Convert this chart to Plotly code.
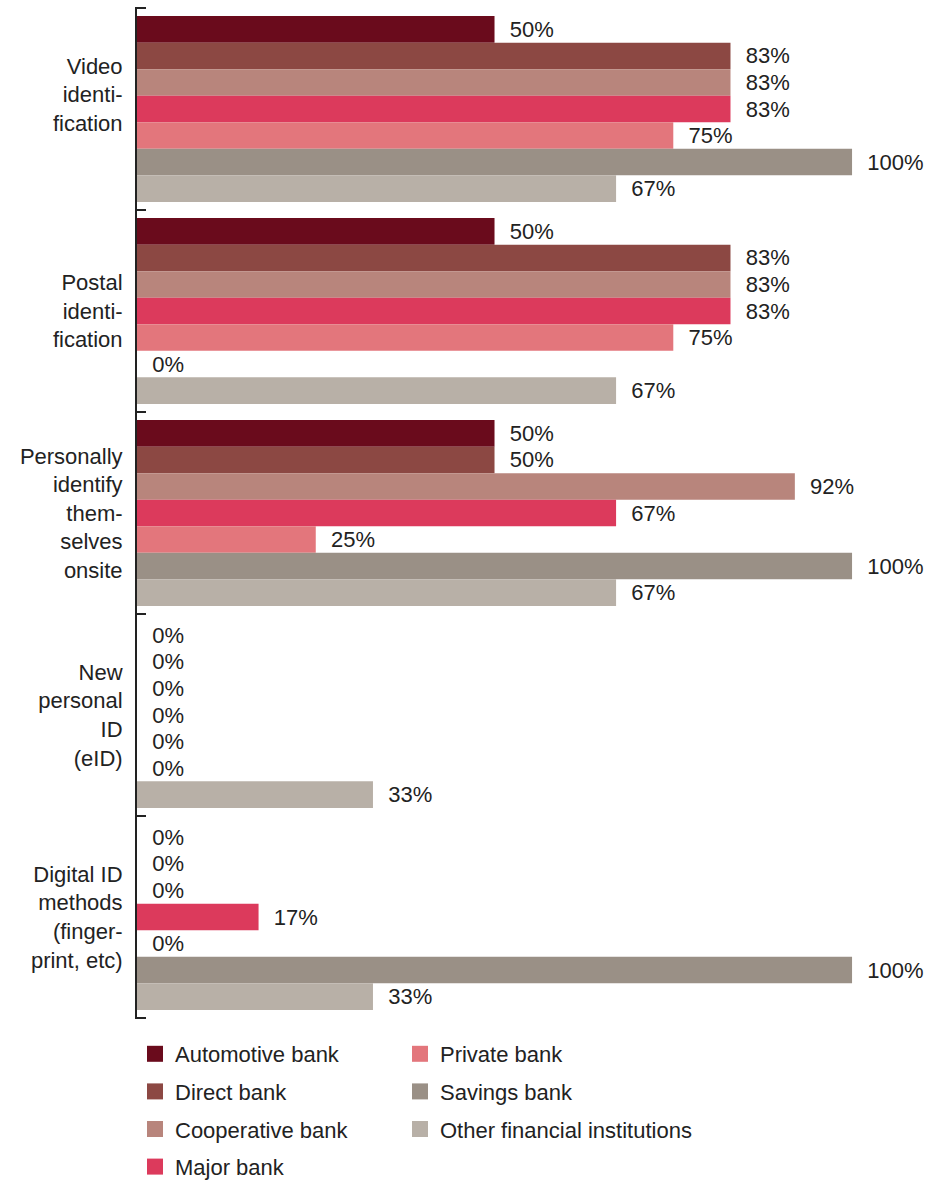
import plotly.graph_objects as go

categories = [
    "Video<br>identi-<br>fication<br>\u00a0",
    "Postal<br>identi-<br>fication",
    "Personally<br>identify<br>them-<br>selves<br>onsite",
    "New<br>personal<br>ID<br>(eID)",
    "Digital ID<br>methods<br>(finger-<br>print, etc)",
]
series_names = [
    "Automotive bank", "Direct bank", "Cooperative bank", "Major bank",
    "Private bank", "Savings bank", "Other financial institutions",
]
automotive = [50, 50, 50, 0, 0]
direct = [83, 83, 50, 0, 0]
cooperative = [83, 83, 92, 0, 0]
major = [83, 83, 67, 0, 17]
private = [75, 75, 25, 0, 0]
savings = [100, 0, 100, 0, 100]
other = [67, 67, 67, 33, 33]
series_values = [automotive, direct, cooperative, major, private, savings, other]
colors = ["#6a0b1c", "#8c4843", "#b8857c", "#dc3a5c", "#e3767c", "#9a9086", "#b8b0a7"]

FONT = "Liberation Sans, Arial, sans-serif"
FS = 22
W, H = 946, 1189
TOP = 7
PH = H - TOP
BAR_BOTTOM = 1019
INK = "#222222"


def py(px):
    return (H - px) / PH


fig = go.Figure()
for i, (name, vals, col) in enumerate(zip(series_names, series_values, colors)):
    fig.add_trace(go.Bar(
        y=categories, x=vals, name=name, orientation="h",
        marker=dict(color=col, line=dict(width=0)),
        texttemplate="\u00a0\u00a0%{x}%", textposition="outside",
        textfont=dict(size=FS, color=INK, family=FONT),
        cliponaxis=False, showlegend=False,
        hoverinfo="skip",
    ))
# legend entries (larger square swatches)
for i, (name, col) in enumerate(zip(series_names, colors)):
    fig.add_trace(go.Scatter(
        x=[None], y=[None], mode="markers", name=name,
        marker=dict(symbol="square", size=18, color=col),
        legend="legend" if i < 4 else "legend2",
        legendgroup=name, hoverinfo="skip",
    ))

# end ticks at the outer category boundaries
for yb in (-0.5, len(categories) - 0.5):
    fig.add_shape(type="line", xref="x domain", yref="y",
                  x0=0, x1=0.0112, y0=yb, y1=yb,
                  line=dict(color=INK, width=2))

legend_common = dict(
    yanchor="bottom", orientation="v", traceorder="grouped", tracegroupgap=6,
    itemsizing="trace",
    font=dict(size=FS, color=INK, family=FONT), bgcolor="rgba(0,0,0,0)",
)

fig.update_layout(
    width=W, height=H,
    margin=dict(l=137, r=6, t=TOP, b=0),
    barmode="group", bargap=0.08, bargroupgap=0,
    plot_bgcolor="white", paper_bgcolor="white",
    font=dict(family=FONT, size=FS, color=INK),
    xaxis=dict(range=[0, 112.3], visible=False, fixedrange=True),
    yaxis=dict(
        domain=[py(BAR_BOTTOM), 1],
        autorange="reversed", showline=True, linecolor=INK, linewidth=2,
        ticks="inside", tickson="boundaries", ticklen=9, tickwidth=2, tickcolor=INK,
        ticklabelstandoff=8, tickfont=dict(size=FS, color=INK, family=FONT),
        showgrid=False, zeroline=False, fixedrange=True,
    ),
    legend=dict(x=-0.0025, y=py(1188), xanchor="left", **legend_common),
    legend2=dict(x=0.3275, y=py(1150), xanchor="left", **legend_common),
)

fig.write_html("out.html")
